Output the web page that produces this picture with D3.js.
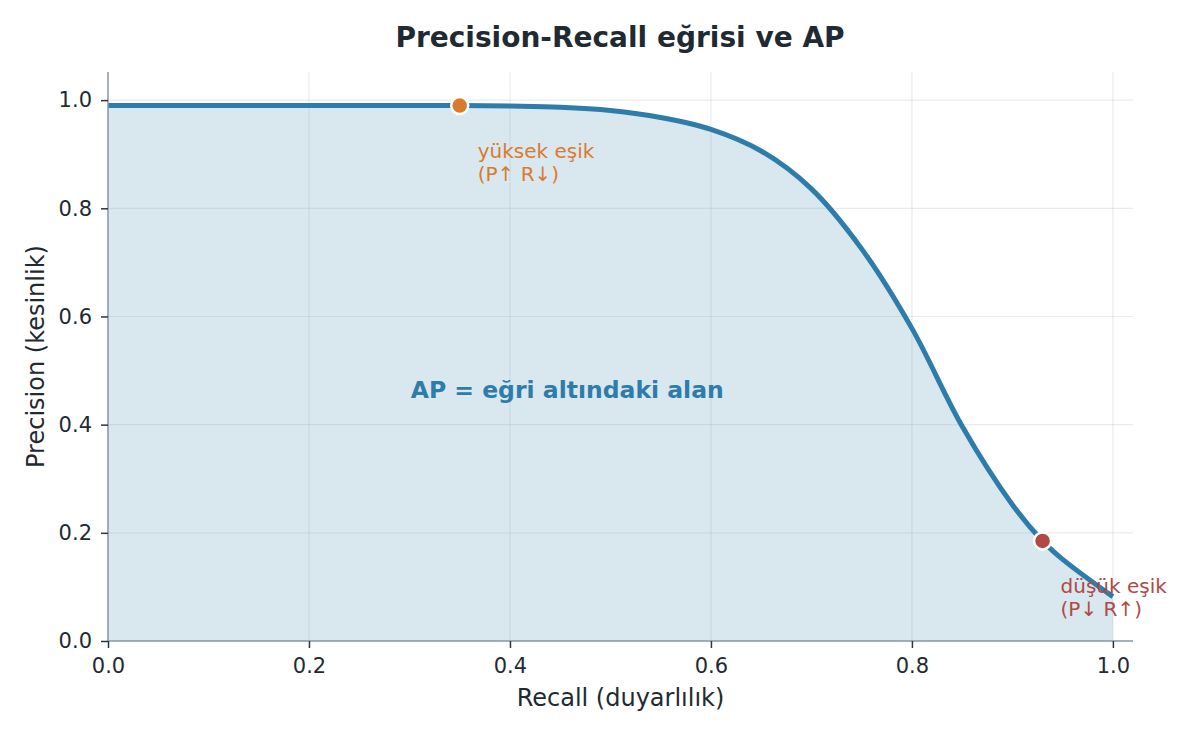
<!DOCTYPE html>
<html>
<head>
<meta charset="utf-8">
<script src="https://cdn.jsdelivr.net/npm/d3@7"></script>
<style>
  body { margin: 0; background: #fff; }
  text { font-family: "DejaVu Sans", sans-serif; }
</style>
</head>
<body>
<div id="chart"></div>
<script>
// recall / precision
const recall = [0, 0.05, 0.1, 0.15, 0.2, 0.25, 0.3, 0.35, 0.4, 0.45, 0.5, 0.55, 0.6, 0.65, 0.7, 0.75, 0.8, 0.85, 0.9, 0.93, 0.95, 1.0];
const precision = [0.99, 0.99, 0.99, 0.99, 0.99, 0.99, 0.99, 0.99, 0.989, 0.987, 0.981, 0.968, 0.946, 0.906, 0.836, 0.725, 0.578, 0.397, 0.252, 0.185, 0.151, 0.082];
const xTicks = [0, 0.2, 0.4, 0.6, 0.8, 1.0];
const yTicks = [0, 0.2, 0.4, 0.6, 0.8, 1.0];
const markers = [
  { r: 0.35, p: 0.99, color: "#d97b2f", lines: ["yüksek eşik", "(P↑ R↓)"] },
  { r: 0.93, p: 0.185, color: "#b04a47", lines: ["düşük eşik", "(P↓ R↑)"] }
];

const W = 1200, H = 736;
const margin = { top: 72, right: 67, bottom: 95, left: 108 };
const width = W - margin.left - margin.right;
const height = H - margin.top - margin.bottom;

const svg = d3.select("#chart").append("svg")
  .attr("width", W).attr("height", H);
const g = svg.append("g")
  .attr("transform", "translate(" + margin.left + "," + margin.top + ")");

const x = d3.scaleLinear().domain([0, 1.02]).range([0, width]);
const y = d3.scaleLinear().domain([0, 1.052]).range([height, 0]);

const data = recall.map((r, i) => ({ r: r, p: precision[i] }));
const curve = d3.curveCatmullRom.alpha(0.5);

// area under curve
g.append("path")
  .datum(data)
  .attr("fill", "#d9e7ef")
  .attr("d", d3.area().x(d => x(d.r)).y0(y(0)).y1(d => y(d.p)).curve(curve));

// grid
g.append("g").selectAll("line").data(xTicks).join("line")
  .attr("x1", d => x(d)).attr("x2", d => x(d))
  .attr("y1", 0).attr("y2", height)
  .attr("stroke", "#9aa5ae").attr("stroke-opacity", 0.22).attr("stroke-width", 1.2);
g.append("g").selectAll("line").data(yTicks).join("line")
  .attr("x1", 0).attr("x2", width)
  .attr("y1", d => y(d)).attr("y2", d => y(d))
  .attr("stroke", "#9aa5ae").attr("stroke-opacity", 0.22).attr("stroke-width", 1.2);

// curve
g.append("path")
  .datum(data)
  .attr("fill", "none")
  .attr("stroke", "#2e7ca9")
  .attr("stroke-width", 5)
  .attr("d", d3.line().x(d => x(d.r)).y(d => y(d.p)).curve(curve));

// axes
const xAxis = g.append("g")
  .attr("transform", "translate(0," + height + ")")
  .call(d3.axisBottom(x).tickValues(xTicks).tickFormat(d3.format(".1f")).tickSize(7).tickPadding(10));
const yAxis = g.append("g")
  .call(d3.axisLeft(y).tickValues(yTicks).tickFormat(d3.format(".1f")).tickSize(7).tickPadding(9));
[xAxis, yAxis].forEach(a => {
  a.select(".domain").attr("stroke", "#8a98a4").attr("stroke-width", 1.5);
  a.selectAll(".tick line").attr("stroke", "#2b3640").attr("stroke-width", 1.5);
  a.selectAll(".tick text").attr("fill", "#1f2a33").style("font-size", "21px");
});
xAxis.select(".domain").attr("d", "M0,0H" + width);
yAxis.select(".domain").attr("d", "M0," + height + "V0");

// markers + annotations
markers.forEach(m => {
  g.append("circle")
    .attr("cx", x(m.r)).attr("cy", y(m.p)).attr("r", 8.5)
    .attr("fill", m.color).attr("stroke", "#fff").attr("stroke-width", 2.5);
  const t = g.append("text")
    .attr("x", x(m.r) + 18).attr("y", y(m.p) + 52)
    .attr("fill", m.color).style("font-size", "20px");
  m.lines.forEach((l, i) => t.append("tspan").attr("x", x(m.r) + 18).attr("dy", i ? 23 : 0).text(l));
});

g.append("text")
  .attr("x", x(0.457)).attr("y", y(0.45))
  .attr("text-anchor", "middle")
  .attr("fill", "#2e7ca9")
  .style("font-size", "23.5px").style("font-weight", "bold")
  .text("AP = eğri altındaki alan");

// titles
svg.append("text")
  .attr("x", 620).attr("y", 47)
  .attr("text-anchor", "middle")
  .attr("fill", "#1f2a33")
  .style("font-size", "28px").style("font-weight", "bold")
  .text("Precision-Recall eğrisi ve AP");
svg.append("text")
  .attr("x", margin.left + width / 2).attr("y", 706)
  .attr("text-anchor", "middle")
  .attr("fill", "#1f2a33").style("font-size", "24px")
  .text("Recall (duyarlılık)");
svg.append("text")
  .attr("transform", "translate(44," + (margin.top + height / 2) + ") rotate(-90)")
  .attr("text-anchor", "middle")
  .attr("fill", "#1f2a33").style("font-size", "24px")
  .text("Precision (kesinlik)");
</script>
</body>
</html>
